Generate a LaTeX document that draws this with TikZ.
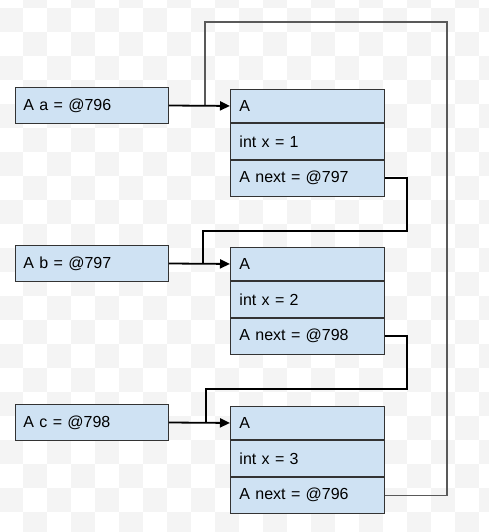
\documentclass[tikz,border=0pt]{standalone}
\usepackage{fontspec}
\setmainfont{Liberation Sans}
\usetikzlibrary{arrows.meta,positioning}
\definecolor{cellfill}{HTML}{CFE2F3}
\definecolor{checker}{HTML}{F4F4F4}
\tikzset{
	varbox/.style={draw=black!80, line width=0.9pt, fill=cellfill, anchor=west, text width=137pt, inner xsep=8pt, inner ysep=0pt, minimum height=36pt, align=left, font=\fontsize{16}{19}\selectfont},
	objhead/.style={varbox, anchor=north west, text width=136pt, inner xsep=9pt, minimum height=33pt},
	objrow/.style={objhead, minimum height=36pt},
	ptr/.style={line width=1.8pt, -{Triangle[length=10pt,width=9pt]}},
	link/.style={line width=1.8pt},
	backlink/.style={line width=1.2pt, black!65}
}
\begin{document}
\begin{tikzpicture}[x=1pt, y=1pt]
				\useasboundingbox (0,0) rectangle (489,-532);
				\fill[white] (0,0) rectangle (489,-532);
				\begin{scope}
					\clip (0,0) rectangle (489,-532);
					\foreach \i in {0,2,...,20} \foreach \j in {-2,0,...,22} {
						\fill[checker] (-1+24*\i, -8-24*\j) rectangle ++(24,-24);
						\fill[checker] (23+24*\i, -32-24*\j) rectangle ++(24,-24);
					}
				\end{scope}
				\node[objhead] (ha) at (230,-89) {A};
				\node[objrow, below=0pt of ha] (xa) {int x = 1};
				\node[objrow, below=0pt of xa] (na) {A next = @797};
				\node[objhead] (hb) at (230,-247) {A};
				\node[objrow, below=0pt of hb] (xb) {int x = 2};
				\node[objrow, below=0pt of xb] (nb) {A next = @798};
				\node[objhead] (hc) at (230,-406) {A};
				\node[objrow, below=0pt of hc] (xc) {int x = 3};
				\node[objrow, below=0pt of xc] (nc) {A next = @796};
				\node[varbox] (a) at (15,-105.5) {A a = @796};
				\node[varbox] (b) at (15,-263.5) {A b = @797};
				\node[varbox] (c) at (15,-422.5) {A c = @798};
				\coordinate (ja) at (205,-22);
				\coordinate (jb) at (203,-231);
				\coordinate (jc) at (206,-389);
				\draw[link] (na.east) -- ++(22,0) |- (jb) -- (jb |- b.east);
				\draw[link] (nb.east) -- ++(22,0) |- (jc) -- (jc |- c.east);
				\draw[backlink] (nc.east) -- ++(62,0) |- (ja) -- (ja |- a.east);
				\draw[ptr] (a.east) -- (ha.west);
				\draw[ptr] (b.east) -- (hb.west);
				\draw[ptr] (c.east) -- (hc.west);
		\end{tikzpicture}
\end{document}
